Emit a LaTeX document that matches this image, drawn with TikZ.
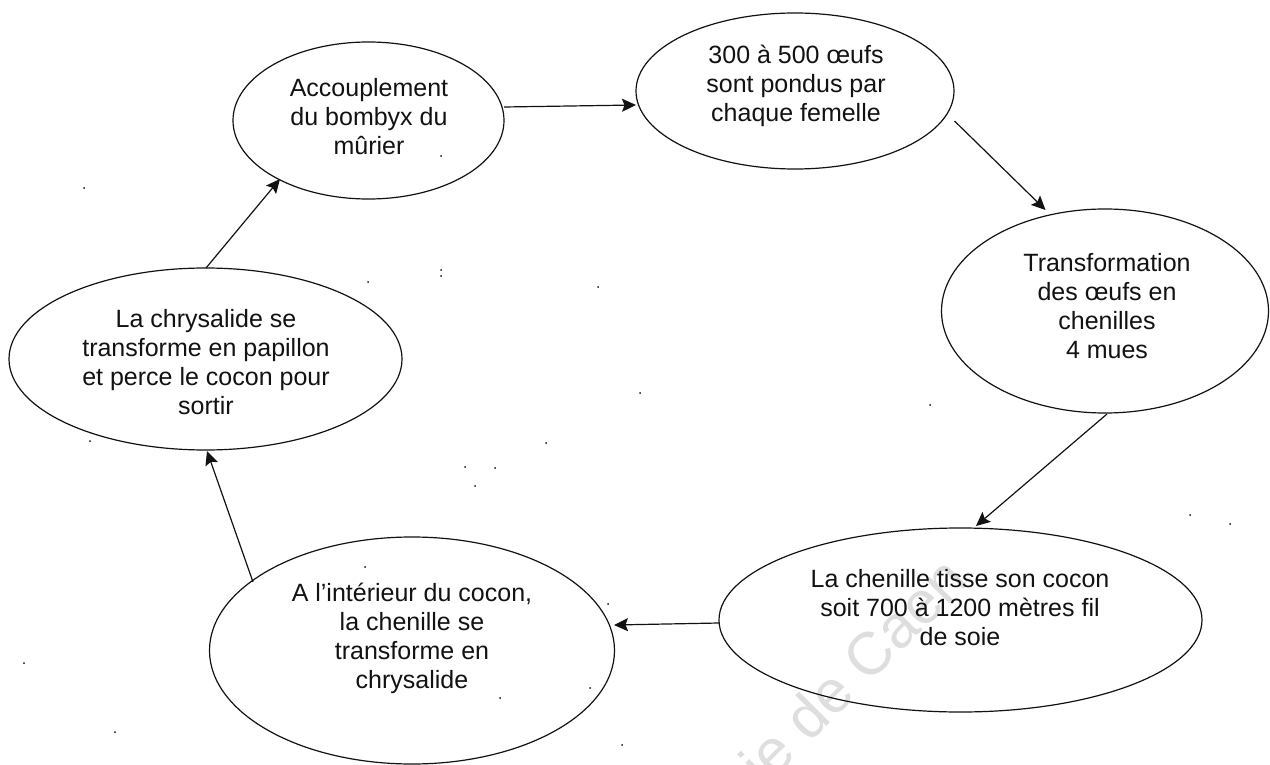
\documentclass[tikz,border=0pt]{standalone}
\usepackage{fontspec}
\setmainfont{Liberation Sans}
\usetikzlibrary{shapes.geometric,arrows.meta}
\definecolor{ink}{gray}{0.07}
\tikzset{
  stage/.style={draw=ink,line width=1.2pt,ellipse,inner sep=0pt},
  caption/.style={align=center,inner sep=0pt,text=ink,font=\fontsize{25pt}{29pt}\selectfont},
  flow/.style={draw=ink,line width=1.2pt,-{Stealth[length=14pt,width=13pt,inset=2.5pt]}},
  mark text/.style={text=black!13,font=\fontsize{60pt}{60pt}\selectfont,rotate=45,inner sep=0pt}
}
\begin{document}
\begin{tikzpicture}[x=1pt,y=-1pt]
\useasboundingbox (0,0) rectangle (1270,765);
\fill[white] (0,0) rectangle (1270,765);
\begin{scope}
\clip (0,0) rectangle (1270,765);
\node[mark text] (wm) at (835,688) {mie de Caen};
\end{scope}
\node[stage,minimum width=271pt,minimum height=157pt] (a) at (368.5,120.5) {};
\node[stage,minimum width=318pt,minimum height=156pt] (b) at (795,91) {};
\node[stage,minimum width=327pt,minimum height=204pt] (c) at (1105,311) {};
\node[stage,minimum width=483pt,minimum height=184pt] (d) at (960.5,620) {};
\node[stage,minimum width=405pt,minimum height=227pt] (e) at (412,650.5) {};
\node[stage,minimum width=393pt,minimum height=182pt] (f) at (205.5,359) {};
\node[caption] (ta) at (369,117) {Accouplement\\du bombyx du\\mûrier};
\node[caption] (tb) at (796,86) {300 à 500 œufs\\sont pondus par\\chaque femelle};
\node[caption] (tc) at (1107,306) {Transformation\\des œufs en\\chenilles\\4 mues};
\node[caption] (td) at (960,608) {La chenille tisse son cocon\\soit 700 à 1200 mètres fil\\de soie};
\node[caption] (te) at (412,638) {A l’intérieur du cocon,\\la chenille se\\transforme en\\chrysalide};
\node[caption] (tf) at (206,362) {La chrysalide se\\transforme en papillon\\et perce le cocon pour\\sortir};
\coordinate (ab1) at (504,107); \coordinate (ab2) at (636,105);
\coordinate (bc1) at (954.5,121); \coordinate (bc2) at (1045.5,210);
\coordinate (cd1) at (1107,414); \coordinate (cd2) at (976,526);
\coordinate (de1) at (719,623); \coordinate (de2) at (614,625);
\coordinate (ef1) at (253,582); \coordinate (ef2) at (207,451);
\coordinate (fa1) at (206,268); \coordinate (fa2) at (280,179);
\draw[flow] (ab1) -- (ab2);
\draw[flow] (bc1) -- (bc2);
\draw[flow] (cd1) -- (cd2);
\draw[flow] (de1) -- (de2);
\draw[flow] (ef1) -- (ef2);
\draw[flow] (fa1) -- (fa2);
\foreach \px/\py in {84/188,441/156,441/270,441/276,368/282,598/287,90/441,546/443,465/467,495/468,475/486,24/663,115/732,365/567,608/604,590/688,500/698,622/745,640/393,930/405,1190/515,1230/524}
  \fill[ink] (\px,\py) circle (1pt);
\end{tikzpicture}
\end{document}
